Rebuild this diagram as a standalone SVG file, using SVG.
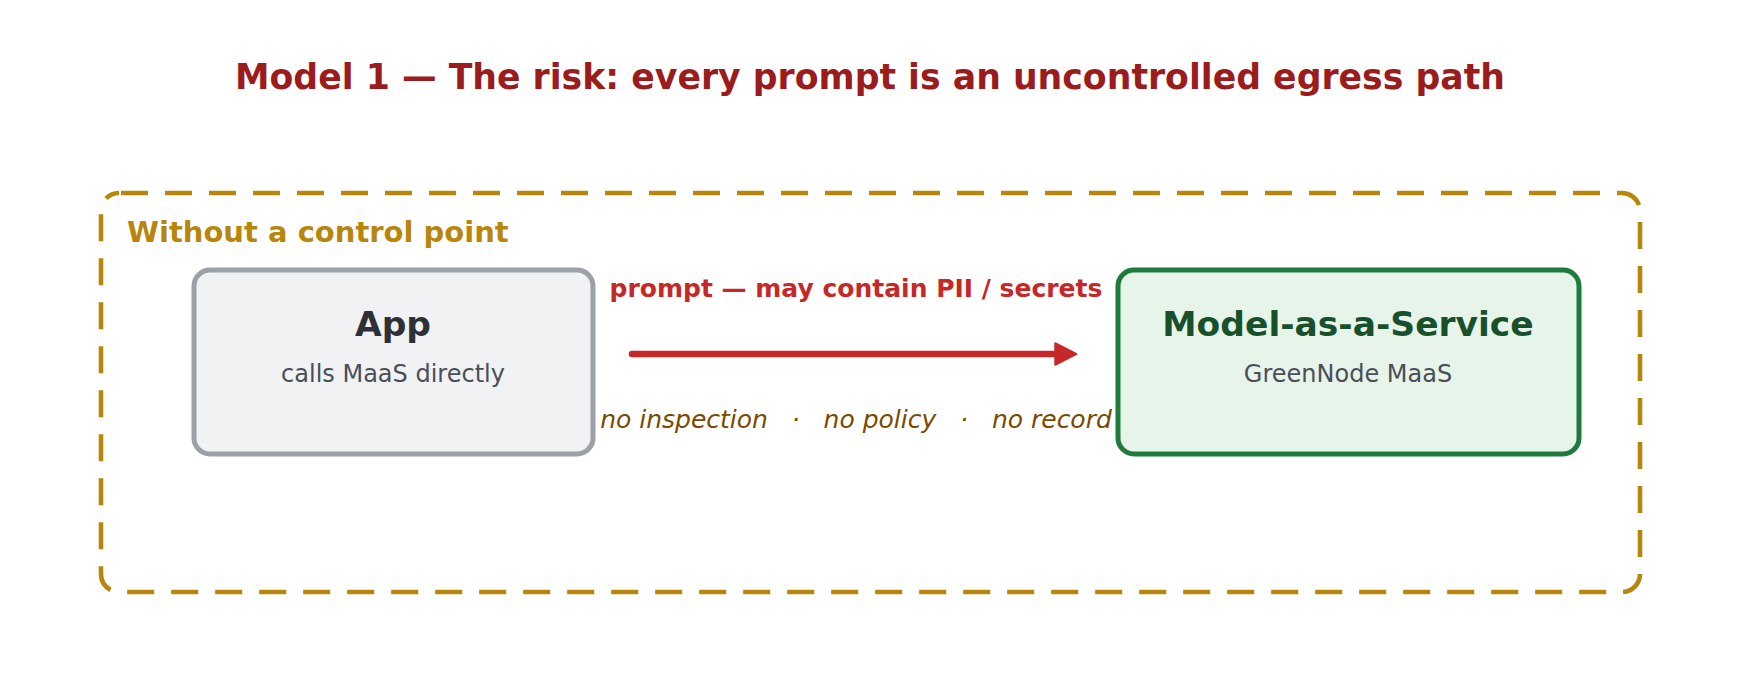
<svg xmlns="http://www.w3.org/2000/svg" width="1741" height="694" viewBox="0 0 1741 694">
<style>
text{font-family:"DejaVu Sans","Liberation Sans",sans-serif}
.title{font-size:34.7px;font-weight:bold;fill:#9b1c1c}
.group{font-size:29px;font-weight:bold;fill:#b8860b}
.h{font-size:34.5px;font-weight:bold}
.sub{font-size:24px;fill:#4a4f57}
.lbl{font-size:25px;font-weight:bold;fill:#c62828}
.note{font-size:25px;font-style:italic;fill:#7a4a00;white-space:pre}
</style>
<defs>
<marker id="ah" viewBox="0 0 24 24" refX="7" refY="12" markerWidth="24" markerHeight="24" orient="auto" markerUnits="userSpaceOnUse">
<path d="M1.5,1.5 L22,12 L1.5,22.5 Z" fill="#c62828" stroke="#c62828" stroke-width="2.5" stroke-linejoin="round"/>
</marker>
</defs>
<rect width="1741" height="694" fill="#ffffff"/>
<text class="title" x="870" y="89" text-anchor="middle">Model 1 — The risk: every prompt is an uncontrolled egress path</text>
<g id="boundary">
<rect x="101" y="193" width="1539" height="399" rx="18" fill="none" stroke="#b8860b" stroke-width="4.6" stroke-dasharray="27 17" stroke-dashoffset="-2"/>
<text class="group" x="127" y="242">Without a control point</text>
</g>
<g id="app">
<rect x="194" y="270" width="399" height="184" rx="16" fill="#f1f2f4" stroke="#9ca0a8" stroke-width="5"/>
<text class="h" x="393" y="336" text-anchor="middle" fill="#2d3035">App</text>
<text class="sub" x="393" y="382" text-anchor="middle">calls MaaS directly</text>
</g>
<g id="maas">
<rect x="1118" y="270" width="461" height="184" rx="16" fill="#e6f4ea" stroke="#1e7b3c" stroke-width="5"/>
<text class="h" x="1348" y="336" text-anchor="middle" fill="#17502a">Model-as-a-Service</text>
<text class="sub" x="1348" y="382" text-anchor="middle">GreenNode MaaS</text>
</g>
<g id="connectors">
<line x1="632" y1="354" x2="1061" y2="354" stroke="#c62828" stroke-width="6.5" stroke-linecap="round" marker-end="url(#ah)"/>
<text class="lbl" x="856" y="297" text-anchor="middle">prompt — may contain PII / secrets</text>
<text class="note" x="856" y="428" text-anchor="middle">no inspection   ·   no policy   ·   no record</text>
</g>
</svg>
